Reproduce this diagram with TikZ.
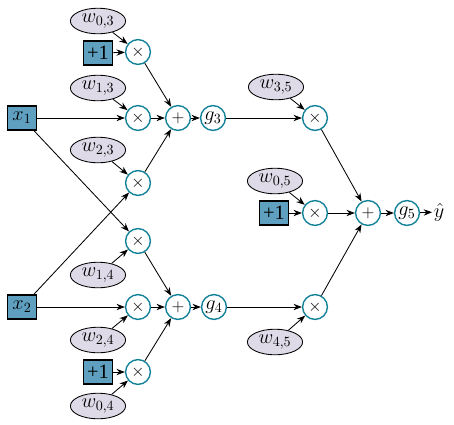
\documentclass[tikz,border=0pt]{standalone}
\usepackage{fontspec}
\setmainfont{Liberation Serif}
\usetikzlibrary{shapes,arrows.meta,positioning}
\definecolor{boxblue}{RGB}{95,160,192}
\definecolor{ringteal}{RGB}{20,130,152}
\definecolor{wgrey}{RGB}{222,218,232}

\begin{document}
\begin{tikzpicture}[x=0.025cm, y=-0.025cm, font=\fontsize{14.5}{17}\selectfont,
	inp/.style={rectangle, draw, thick, fill=boxblue, minimum width=0.74cm, minimum height=0.6cm, inner sep=1pt},
	wgt/.style={ellipse, draw, semithick, fill=wgrey, minimum width=1.38cm, minimum height=0.64cm, inner sep=0pt},
	op/.style={circle, draw=ringteal, line width=1pt, minimum size=0.62cm, inner sep=0pt},
	sym/.style={op, font=\fontsize{12}{14}\selectfont},
	link/.style={draw, semithick, -{Stealth[length=6pt, width=4.5pt]}}]
				\useasboundingbox (0,0) rectangle (454,424);
				% first hidden unit
				\node[wgt] (w03) at (98,21) {$w_{0,3}$};
				\node[inp] (one3) at (98,53) {+1};
				\node[sym] (m03) at (138,52) {$\times$};
				\node[wgt] (w13) at (98,88) {$w_{1,3}$};
				\node[inp] (x1) at (22,118) {$x_1$};
				\node[sym] (m13) at (138,118) {$\times$};
				\node[sym] (s3) at (178,118) {$+$};
				\node[op] (g3) at (213,118) {$g_3$};
				\node[wgt] (w23) at (98,150) {$w_{2,3}$};
				\node[sym] (m23) at (138,183) {$\times$};
				
				% second hidden unit
				\node[sym] (m14) at (138,241) {$\times$};
				\node[wgt] (w14) at (98,275) {$w_{1,4}$};
				\node[inp] (x2) at (22,307) {$x_2$};
				\node[sym] (m24) at (138,307) {$\times$};
				\node[sym] (s4) at (178,307) {$+$};
				\node[op] (g4) at (214,307) {$g_4$};
				\node[wgt] (w24) at (98,340) {$w_{2,4}$};
				\node[inp] (one4) at (98,372) {+1};
				\node[sym] (m04) at (138,372) {$\times$};
				\node[wgt] (w04) at (98,406) {$w_{0,4}$};
				
				% output unit
				\node[wgt] (w35) at (276,87) {$w_{3,5}$};
				\node[sym] (m35) at (315,118) {$\times$};
				\node[wgt] (w05) at (275,181) {$w_{0,5}$};
				\node[inp] (one5) at (274,213) {+1};
				\node[sym] (m05) at (315,213) {$\times$};
				\node[sym] (s5) at (368,213) {$+$};
				\node[op] (g5) at (407,213) {$g_5$};
				\node[inner sep=1pt] (yhat) at (439,212) {$\hat{y}$};
				\node[sym] (m45) at (315,307) {$\times$};
				\node[wgt] (w45) at (275,342) {$w_{4,5}$};
				
				\path[link] (w03) -- (m03);
				\path[link] (one3) -- (m03);
				\path[link] (w13) -- (m13);
				\path[link] (x1) -- (m13);
				\path[link] (x1) -- (m14);
				\path[link] (w23) -- (m23);
				\path[link] (x2) -- (m23);
				\path[link] (m03) -- (s3);
				\path[link] (m13) -- (s3);
				\path[link] (m23) -- (s3);
				\path[link] (s3) -- (g3);
				
				\path[link] (w14) -- (m14);
				\path[link] (x2) -- (m24);
				\path[link] (w24) -- (m24);
				\path[link] (one4) -- (m04);
				\path[link] (w04) -- (m04);
				\path[link] (m14) -- (s4);
				\path[link] (m24) -- (s4);
				\path[link] (m04) -- (s4);
				\path[link] (s4) -- (g4);
				
				\path[link] (g3) -- (m35);
				\path[link] (w35) -- (m35);
				\path[link] (w05) -- (m05);
				\path[link] (one5) -- (m05);
				\path[link] (g4) -- (m45);
				\path[link] (w45) -- (m45);
				\path[link] (m35) -- (s5);
				\path[link] (m05) -- (s5);
				\path[link] (m45) -- (s5);
				\path[link] (s5) -- (g5);
				\path[link] (g5) -- (yhat);
			\end{tikzpicture}
\end{document}
